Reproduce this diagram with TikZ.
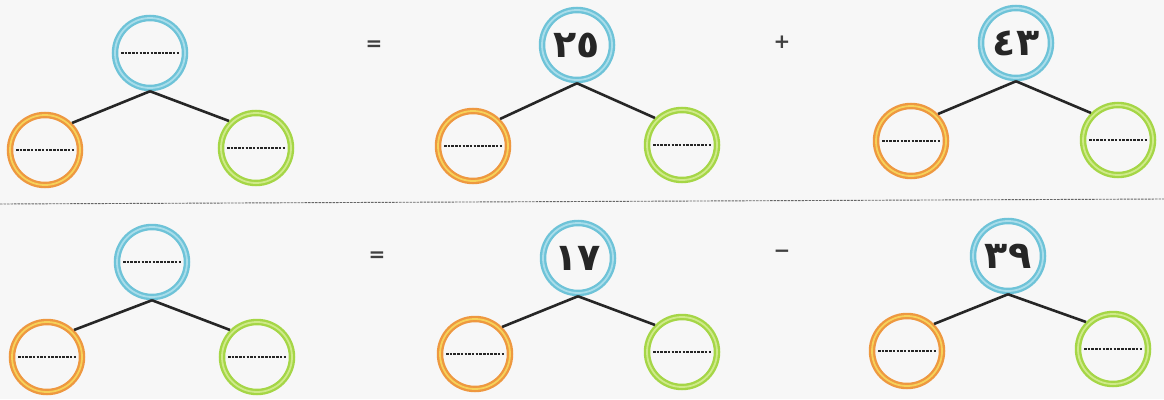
\documentclass[tikz,border=0pt]{standalone}
\usepackage{fontspec}
\newfontfamily\arabicfont[Script=Arabic]{DejaVu Sans}
\newfontfamily\opfont{DejaVu Sans}
\definecolor{cBg}{HTML}{F7F7F7}
\definecolor{cBlue}{HTML}{6EC3D8}
\definecolor{cBlueL}{HTML}{A9DDEA}
\definecolor{cOrange}{HTML}{EE9840}
\definecolor{cOrangeL}{HTML}{F6D25A}
\definecolor{cGreen}{HTML}{A5D646}
\definecolor{cGreenL}{HTML}{CFEA8A}
\begin{document}
\begin{tikzpicture}[x=1pt,y=-1pt,
  ring/.style={circle, minimum size=70pt, inner sep=0pt, line width=6.5pt},
  bluering/.style={ring, draw=cBlue, postaction={draw=cBlueL, line width=1.8pt}},
  orangering/.style={ring, draw=cOrange, postaction={draw=cOrangeL, line width=1.8pt}},
  greenring/.style={ring, draw=cGreen, postaction={draw=cGreenL, line width=1.8pt}},
  branch/.style={line width=2.6pt, black!85},
  blank/.style={black!85, line width=1.1pt, dash pattern=on 2.5pt off 1.2pt},
  num/.style={font=\arabicfont\bfseries\fontsize{38}{42}\selectfont, text=black!85},
  op/.style={font=\opfont\bfseries\fontsize{20}{24}\selectfont, text=black!75},
  divider/.style={black!60, line width=0.9pt, dash pattern=on 2.5pt off 1pt}]
\fill[cBg] (0,0) rectangle (1164,399);
\useasboundingbox (0,0) rectangle (1164,399);

% divider
\coordinate (dL) at (0,204);
\coordinate (dR) at (1164,199);
\draw[divider] (dL) -- (dR);

% operators
\node[op] (eq1) at (374,46) {=};
\node[op] (plus) at (782,42) {+};
\node[op] (eq2) at (377,257) {=};
\node[op] (minus) at (782,254) {−};

% ---- Tree 1 (top left) ----
\node[bluering] (t1) at (150,53) {};
\node[orangering] (l1) at (45,150) {};
\node[greenring] (r1) at (256,148) {};
\draw[branch] (t1.south) -- (l1.45);
\draw[branch] (t1.south) -- (r1.135);
\foreach \n in {t1,l1,r1} \draw[blank] ([xshift=-29pt]\n.center) -- ([xshift=29pt]\n.center);

% ---- Tree 2 (top middle) ----
\node[bluering, num] (t2) at (577,45) {٢٥};
\node[orangering] (l2) at (473,146) {};
\node[greenring] (r2) at (682,145) {};
\draw[branch] (t2.south) -- (l2.45);
\draw[branch] (t2.south) -- (r2.135);
\foreach \n in {l2,r2} \draw[blank] ([xshift=-29pt]\n.center) -- ([xshift=29pt]\n.center);

% ---- Tree 3 (top right) ----
\node[bluering, num] (t3) at (1016,43) {٤٣};
\node[orangering] (l3) at (911,141) {};
\node[greenring] (r3) at (1118,140) {};
\draw[branch] (t3.south) -- (l3.45);
\draw[branch] (t3.south) -- (r3.135);
\foreach \n in {l3,r3} \draw[blank] ([xshift=-29pt]\n.center) -- ([xshift=29pt]\n.center);

% ---- Tree 4 (bottom left) ----
\node[bluering] (t4) at (152,262) {};
\node[orangering] (l4) at (47,357) {};
\node[greenring] (r4) at (257,357) {};
\draw[branch] (t4.south) -- (l4.45);
\draw[branch] (t4.south) -- (r4.135);
\foreach \n in {t4,l4,r4} \draw[blank] ([xshift=-29pt]\n.center) -- ([xshift=29pt]\n.center);

% ---- Tree 5 (bottom middle) ----
\node[bluering, num] (t5) at (578,258) {١٧};
\node[orangering] (l5) at (475,354) {};
\node[greenring] (r5) at (682,352) {};
\draw[branch] (t5.south) -- (l5.45);
\draw[branch] (t5.south) -- (r5.135);
\foreach \n in {l5,r5} \draw[blank] ([xshift=-29pt]\n.center) -- ([xshift=29pt]\n.center);

% ---- Tree 6 (bottom right) ----
\node[bluering, num] (t6) at (1008,256) {٣٩};
\node[orangering] (l6) at (907,351) {};
\node[greenring] (r6) at (1113,349) {};
\draw[branch] (t6.south) -- (l6.45);
\draw[branch] (t6.south) -- (r6.135);
\foreach \n in {l6,r6} \draw[blank] ([xshift=-29pt]\n.center) -- ([xshift=29pt]\n.center);
\end{tikzpicture}
\end{document}
